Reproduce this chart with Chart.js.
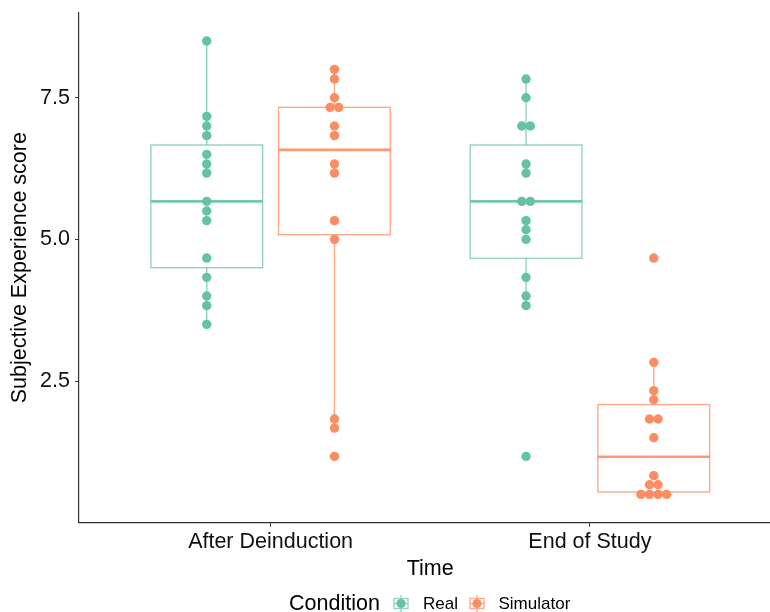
<!DOCTYPE html>
<html>
<head>
<meta charset="utf-8">
<script src="https://cdn.jsdelivr.net/npm/chart.js@4"></script>
<style>
  html, body { margin: 0; padding: 0; background: #fff; overflow: hidden; }
  #wrap { width: 790px; height: 612px; }
</style>
</head>
<body>
<div id="wrap"><canvas id="myChart" width="790" height="612"></canvas></div>
<script>
const timeLabels = ['After Deinduction', 'End of Study'];
const conditions = ['Real', 'Simulator'];
const yTicks = [2.5, 5.0, 7.5];

// scores, one array per box
const realAfter = [8.5, 7.17, 7.0, 6.83, 6.5, 6.33, 6.17, 5.67, 5.5, 5.33, 4.67, 4.33, 4.0, 3.83, 3.5];
const simAfter  = [8.0, 7.83, 7.5, 7.33, 7.33, 7.0, 6.83, 6.33, 6.17, 5.33, 5.0, 1.83, 1.67, 1.17];
const realEnd   = [7.83, 7.5, 7.0, 7.0, 6.33, 6.17, 5.67, 5.67, 5.33, 5.17, 5.0, 4.33, 4.0, 3.83, 1.17];
const simEnd    = [4.67, 2.83, 2.33, 2.17, 1.83, 1.83, 1.5, 0.83, 0.67, 0.67, 0.5, 0.5, 0.5, 0.5];

const FONT = "'Liberation Sans', Arial, sans-serif";
const colors = ['#66C2A5', '#FC8D62'];
const boxColors = ['rgba(102,194,165,0.72)', 'rgba(252,141,98,0.75)'];
const medColors = ['rgba(102,194,165,0.9)', 'rgba(252,141,98,0.9)'];
const dodge = 0.2, boxHalf = 0.175, dotStep = 0.0268;

function quantile(sorted, p) {
    const h = (sorted.length - 1) * p;
    const lo = Math.floor(h);
    return sorted[lo] + (h - lo) * ((sorted[lo + 1] ?? sorted[lo]) - sorted[lo]);
}

function boxStats(vals) {
    const s = [...vals].sort((a, b) => a - b);
    const q1 = quantile(s, 0.25), med = quantile(s, 0.5), q3 = quantile(s, 0.75);
    const iqr = q3 - q1;
    const lo = s.find(v => v >= q1 - 1.5 * iqr);
    const hi = [...s].reverse().find(v => v <= q3 + 1.5 * iqr);
    return { q1, med, q3, lo, hi };
}

const groups = [
    { t: 0, c: 0, vals: realAfter },
    { t: 0, c: 1, vals: simAfter },
    { t: 1, c: 0, vals: realEnd },
    { t: 1, c: 1, vals: simEnd },
].map(g => ({ ...g, pos: g.t + 1 + (g.c === 0 ? -dodge : dodge), stats: boxStats(g.vals) }));

// centred dot stacks for equal values
function dotPoints(g) {
    const counts = {};
    g.vals.forEach(v => counts[v] = (counts[v] || 0) + 1);
    const seen = {};
    return g.vals.map(v => {
        const k = seen[v] = (seen[v] ?? -1) + 1;
        return { x: g.pos + (k - (counts[v] - 1) / 2) * dotStep, y: v };
    });
}

const datasets = conditions.map((name, ci) => ({
    label: name,
    data: groups.filter(g => g.c === ci).flatMap(dotPoints),
    backgroundColor: colors[ci],
    borderWidth: 0,
    pointRadius: 4.7,
    pointHoverRadius: 4.7,
}));

const boxPlugin = {
    id: 'boxes',
    beforeDatasetsDraw(chart) {
        const { ctx, scales: { x, y } } = chart;
        ctx.save();
        groups.forEach(g => {
            const s = g.stats;
            const xl = x.getPixelForValue(g.pos - boxHalf);
            const xr = x.getPixelForValue(g.pos + boxHalf);
            const xc = x.getPixelForValue(g.pos);
            ctx.strokeStyle = boxColors[g.c];
            ctx.lineWidth = 1.4;
            ctx.beginPath();
            ctx.moveTo(xc, y.getPixelForValue(s.hi));
            ctx.lineTo(xc, y.getPixelForValue(s.q3));
            ctx.moveTo(xc, y.getPixelForValue(s.q1));
            ctx.lineTo(xc, y.getPixelForValue(s.lo));
            ctx.stroke();
            ctx.strokeRect(xl, y.getPixelForValue(s.q3), xr - xl, y.getPixelForValue(s.q1) - y.getPixelForValue(s.q3));
            ctx.strokeStyle = medColors[g.c];
            ctx.lineWidth = 2.6;
            ctx.beginPath();
            ctx.moveTo(xl, y.getPixelForValue(s.med));
            ctx.lineTo(xr, y.getPixelForValue(s.med));
            ctx.stroke();
        });
        ctx.restore();
    }
};

function drawKey(ctx, cx, cy, ci) {
    ctx.strokeStyle = boxColors[ci];
    ctx.lineWidth = 1.3;
    ctx.beginPath();
    ctx.moveTo(cx, cy - 8.5); ctx.lineTo(cx, cy - 5);
    ctx.moveTo(cx, cy + 5); ctx.lineTo(cx, cy + 8.5);
    ctx.stroke();
    ctx.strokeRect(cx - 7, cy - 5, 14, 10);
    ctx.beginPath();
    ctx.moveTo(cx - 7, cy); ctx.lineTo(cx + 7, cy);
    ctx.stroke();
    ctx.fillStyle = colors[ci];
    ctx.beginPath();
    ctx.arc(cx, cy, 4.6, 0, Math.PI * 2);
    ctx.fill();
}

const legendPlugin = {
    id: 'ggLegend',
    afterDraw(chart) {
        const ctx = chart.ctx;
        ctx.save();
        ctx.textBaseline = 'middle';
        ctx.textAlign = 'left';
        ctx.fillStyle = '#000';
        ctx.font = `21.5px ${FONT}`;
        ctx.fillText('Condition', 289, 604);
        ctx.font = `17px ${FONT}`;
        drawKey(ctx, 401, 603.5, 0);
        ctx.fillStyle = '#000';
        ctx.fillText(conditions[0], 423, 604);
        drawKey(ctx, 477, 603.5, 1);
        ctx.fillStyle = '#000';
        ctx.fillText(conditions[1], 498.5, 604);
        ctx.restore();
    }
};

const ctx = document.getElementById('myChart').getContext('2d');
new Chart(ctx, {
    type: 'scatter',
    data: { datasets },
    plugins: [boxPlugin, legendPlugin],
    options: {
        responsive: false,
        animation: false,
        layout: { padding: { left: 0, top: 12.7, right: 8.5, bottom: 30 } },
        plugins: { legend: { display: false }, tooltip: { enabled: false } },
        scales: {
            x: {
                type: 'linear',
                min: 0.4,
                max: 2.6,
                afterBuildTicks: s => { s.ticks = timeLabels.map((_, i) => ({ value: i + 1 })); },
                afterFit: s => { s.height = 59.3; s.paddingLeft = 0; s.paddingRight = 0; },
                ticks: {
                    callback: v => timeLabels[v - 1],
                    color: '#111',
                    font: { family: FONT, size: 21.5 },
                    padding: 2.5,
                    maxRotation: 0,
                    autoSkip: false,
                },
                grid: { display: true, drawOnChartArea: false, drawTicks: true, tickLength: 4, color: '#333', lineWidth: 1 },
                border: { display: true, color: '#333', width: 1.2 },
                title: { display: true, text: 'Time', color: '#000', font: { family: FONT, size: 21.5 }, padding: { top: 0, bottom: 0 } },
            },
            y: {
                type: 'linear',
                min: 0,
                max: 9,
                afterBuildTicks: s => { s.ticks = yTicks.map(v => ({ value: v })); },
                afterFit: s => { s.width = 79; s.paddingTop = 0; s.paddingBottom = 0; },
                ticks: {
                    callback: v => v.toFixed(1),
                    color: '#111',
                    font: { family: FONT, size: 21.5 },
                    padding: 5,
                },
                grid: { display: true, drawOnChartArea: false, drawTicks: true, tickLength: 4, color: '#333', lineWidth: 1 },
                border: { display: true, color: '#333', width: 1.2 },
                title: { display: true, text: 'Subjective Experience score', color: '#000', font: { family: FONT, size: 21.5 }, padding: { top: 7, bottom: 0 } },
            }
        }
    }
});
</script>
</body>
</html>
